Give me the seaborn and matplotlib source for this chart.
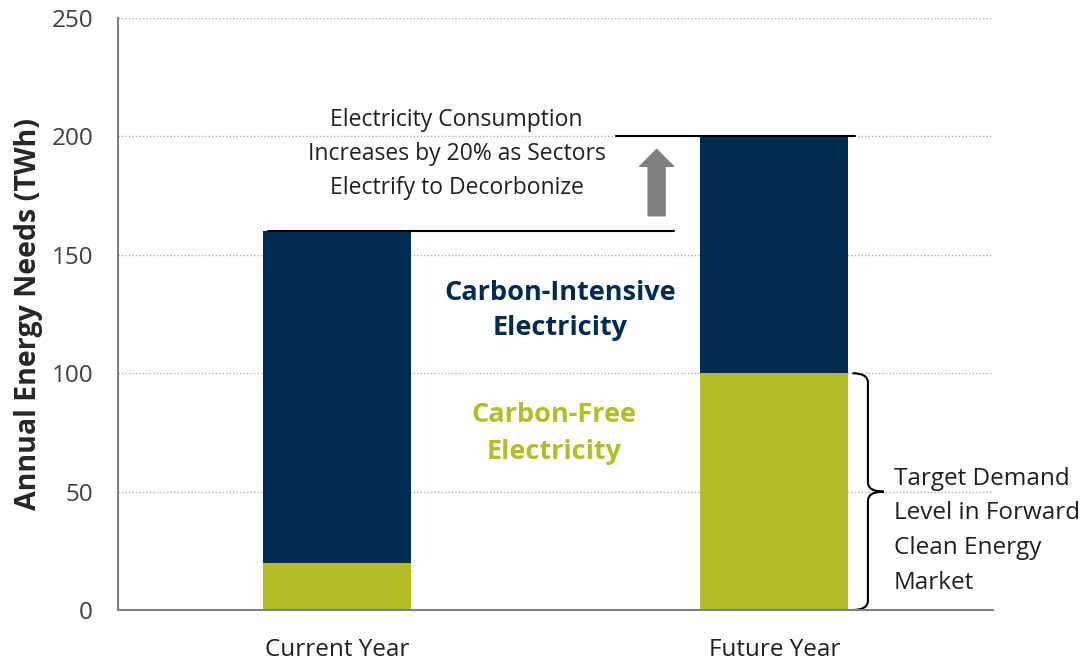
# energy_chart.py

import matplotlib
matplotlib.use("Agg")
import matplotlib.pyplot as plt
from matplotlib.path import Path
from matplotlib.patches import PathPatch
import seaborn as sns

# Data
years = ["Current Year", "Future Year"]
carbon_free = [20, 100]
carbon_intensive = [140, 100]
y_ticks = [0, 50, 100, 150, 200, 250]

totals = [f + c for f, c in zip(carbon_free, carbon_intensive)]

navy = "#002B52"
green = "#B2BE24"
font = "Open Sans"

sns.set_style("white")
plt.rcParams['font.family'] = [font, 'DejaVu Sans']

fig = plt.figure(figsize=(10.86, 6.62), dpi=100)
ax = fig.add_axes([0.1087, 0.0785, 0.8057, 0.8943])

# Stacked bars: total (carbon-intensive on top) then carbon-free at the bottom
sns.barplot(x=years, y=totals, color=navy, saturation=1, width=0.338,
            linewidth=0, ax=ax)
sns.barplot(x=years, y=carbon_free, color=green, saturation=1, width=0.338,
            linewidth=0, ax=ax)

ax.set_xlim(-0.5, 1.5)
ax.set_ylim(0, 250)
ax.set_yticks(y_ticks)
ax.yaxis.grid(True, linestyle=(0, (1, 1.5)), color="#B0B0B0", linewidth=1)
ax.set_axisbelow(True)
for s in ["top", "right"]:
    ax.spines[s].set_visible(False)
for s in ["left", "bottom"]:
    ax.spines[s].set_color("#808080")
    ax.spines[s].set_linewidth(1.5)
ax.tick_params(axis="both", length=0, labelsize=17.5, labelcolor="#404040")
ax.tick_params(axis="y", pad=18)
ax.tick_params(axis="x", pad=20, labelcolor="#202020", labelsize=17.5)
ax.set_ylabel("Annual Energy Needs (TWh)", fontsize=20.5, fontweight="bold",
              labelpad=6)
ax.set_xlabel("")

# Reference lines for totals
ax.plot([-0.158, 0.77], [totals[0], totals[0]], color="black", lw=1.5)
ax.plot([0.638, 1.184], [totals[1], totals[1]], color="black", lw=1.5)

# Grey up arrow
ax.annotate("", xy=(0.731, 194.5), xytext=(0.731, 166.5),
            arrowprops=dict(arrowstyle="simple,head_length=1,head_width=2,tail_width=1",
                            mutation_scale=12.2, color="#808080",
                            shrinkA=0, shrinkB=0))

ax.text(0.274, 192.5,
        "Electricity Consumption\nIncreases by 20% as Sectors\nElectrify to Decorbonize",
        ha="center", va="center", fontsize=16.5, linespacing=1.55, color="#202020")

ax.text(0.51, 126.3, "Carbon-Intensive\nElectricity", ha="center", va="center",
        fontsize=19.5, fontweight="bold", color=navy, linespacing=1.45)
ax.text(0.497, 74.5, "Carbon-Free\nElectricity", ha="center", va="center",
        fontsize=19.5, fontweight="bold", color=green, linespacing=1.55)

# Curly brace next to the future carbon-free bar
x0, x1, x2 = 1.179, 1.214, 1.250
top, bot = carbon_free[1], 0
mid = (top + bot) / 2
verts = [(x0, top), (x1, top), (x1, top - 4),
         (x1, mid + 4),
         (x1, mid), (x2, mid),
         (x1, mid), (x1, mid - 4),
         (x1, bot + 4),
         (x1, bot), (x0, bot)]
codes = [Path.MOVETO, Path.CURVE3, Path.CURVE3,
         Path.LINETO,
         Path.CURVE3, Path.CURVE3,
         Path.CURVE3, Path.CURVE3,
         Path.LINETO,
         Path.CURVE3, Path.CURVE3]
ax.add_patch(PathPatch(Path(verts, codes), fill=False, lw=1.5,
                       edgecolor="black", clip_on=False))

ax.text(1.273, 33.5, "Target Demand\nLevel in Forward\nClean Energy\nMarket",
        ha="left", va="center", fontsize=17.5, linespacing=1.6, color="#202020")

fig.savefig("out.png", dpi=100)
